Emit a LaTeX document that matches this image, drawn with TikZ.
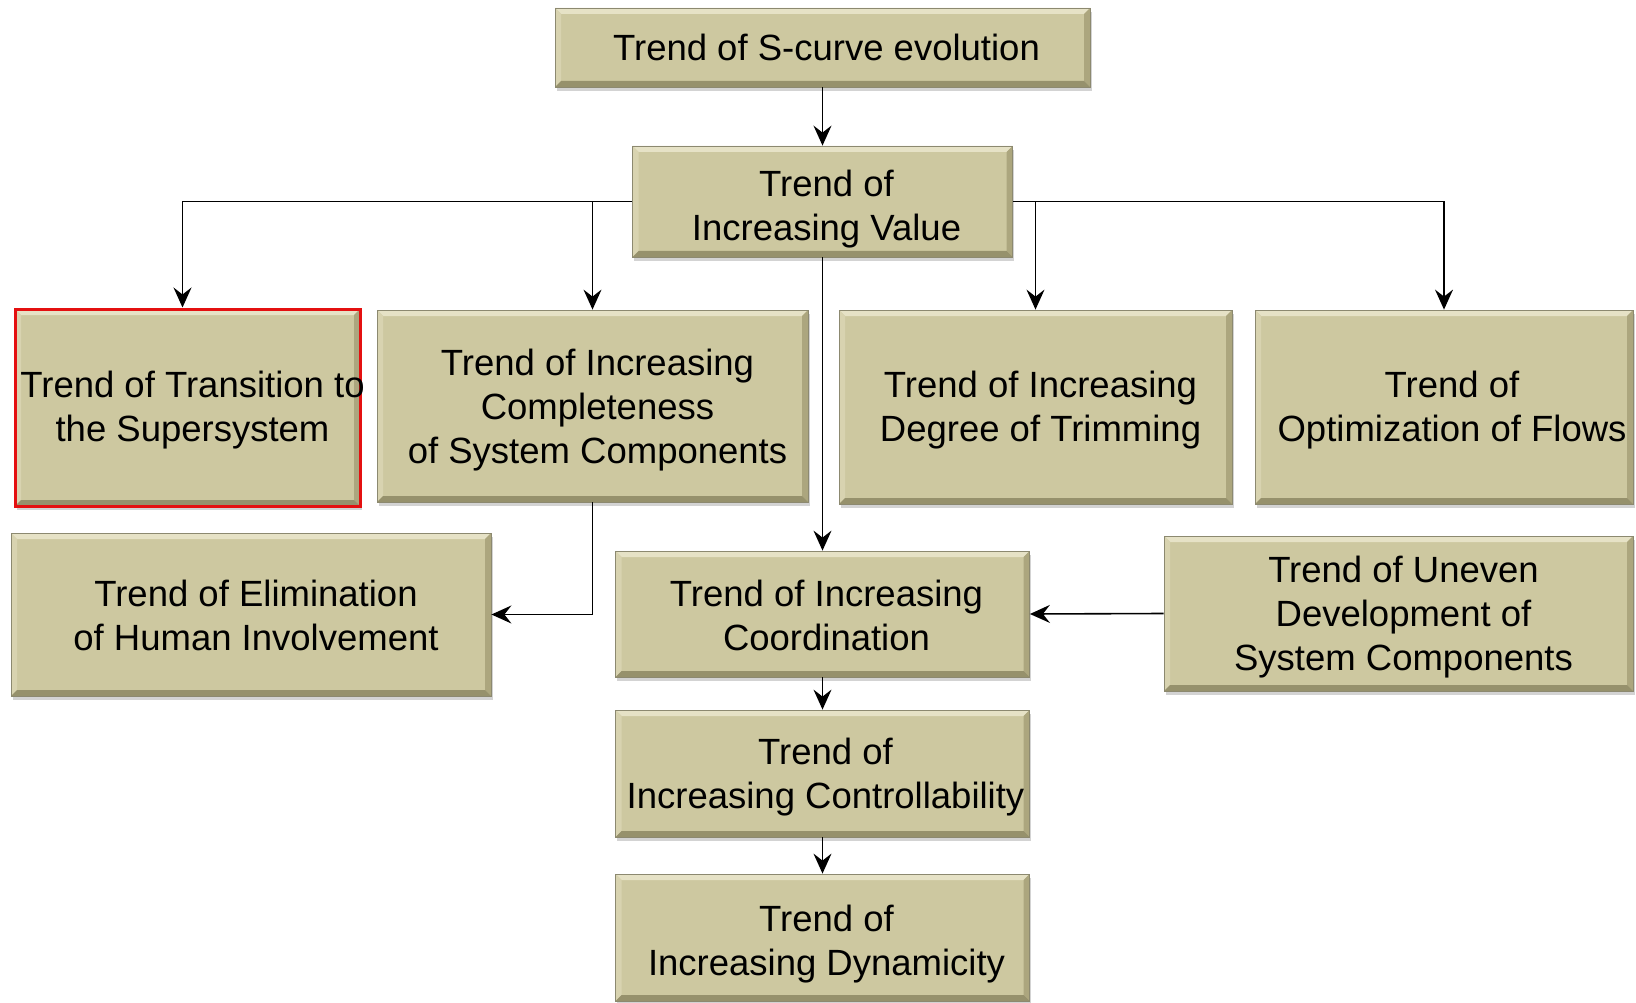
\documentclass[tikz,border=0pt]{standalone}
\usepackage{fontspec}
\setmainfont{Liberation Sans}
\usetikzlibrary{arrows.meta,shadows,calc}
\definecolor{boxfill}{RGB}{205,200,160}
\definecolor{bevtop}{RGB}{230,226,198}
\definecolor{bevleft}{RGB}{216,211,176}
\definecolor{bevright}{RGB}{172,166,126}
\definecolor{bevbot}{RGB}{150,145,108}
\definecolor{boxline}{RGB}{140,137,112}
\definecolor{redline}{RGB}{228,16,16}
\tikzset{
  trendbox/.style={draw=boxline, line width=0.8pt, fill=boxfill, inner sep=0pt,
    drop shadow={shadow xshift=1.5pt, shadow yshift=-4pt, opacity=0.35},
    path picture={
      \fill[bevtop] (path picture bounding box.north west) -- (path picture bounding box.north east)
        -- ([xshift=-6pt,yshift=-6pt]path picture bounding box.north east)
        -- ([xshift=6pt,yshift=-6pt]path picture bounding box.north west) -- cycle;
      \fill[bevleft] (path picture bounding box.north west) -- (path picture bounding box.south west)
        -- ([xshift=6pt,yshift=6pt]path picture bounding box.south west)
        -- ([xshift=6pt,yshift=-6pt]path picture bounding box.north west) -- cycle;
      \fill[bevright] (path picture bounding box.north east) -- (path picture bounding box.south east)
        -- ([xshift=-6pt,yshift=6pt]path picture bounding box.south east)
        -- ([xshift=-6pt,yshift=-6pt]path picture bounding box.north east) -- cycle;
      \fill[bevbot] (path picture bounding box.south west) -- (path picture bounding box.south east)
        -- ([xshift=-6pt,yshift=6pt]path picture bounding box.south east)
        -- ([xshift=6pt,yshift=6pt]path picture bounding box.south west) -- cycle;
    }},
  redbox/.style={trendbox, draw=redline, line width=3pt},
  txt/.style={inner sep=0pt, align=center, font=\fontsize{36.5pt}{44pt}\selectfont, text=black},
  arr/.style={draw=black, line width=1.6pt, -{Stealth[length=20pt,width=18pt,inset=7pt]}}
}
\begin{document}
\begin{tikzpicture}[x=1pt,y=-1pt]
\useasboundingbox (0,0) rectangle (1636,1003);
% boxes
\node[trendbox, minimum width=535pt, minimum height=79pt] (s) at (822.5,47.5) {};
\node[trendbox, minimum width=380pt, minimum height=111pt] (v) at (822.5,201.5) {};
\node[redbox, minimum width=345pt, minimum height=197pt] (tr) at (187.5,407.5) {};
\node[trendbox, minimum width=431pt, minimum height=192pt] (co) at (592.5,406) {};
\node[trendbox, minimum width=393pt, minimum height=194pt] (tm) at (1035.5,407) {};
\node[trendbox, minimum width=378pt, minimum height=194pt] (fl) at (1444,407) {};
\node[trendbox, minimum width=480pt, minimum height=163pt] (el) at (251,614.5) {};
\node[trendbox, minimum width=414pt, minimum height=126pt] (cd) at (822.5,614) {};
\node[trendbox, minimum width=469pt, minimum height=155pt] (un) at (1398.5,613.5) {};
\node[trendbox, minimum width=414pt, minimum height=127pt] (ct) at (822.5,773.5) {};
\node[trendbox, minimum width=414pt, minimum height=127pt] (dy) at (822.5,937.5) {};
% texts
\node[txt] (s-t) at ([shift={(4pt,0pt)}]s.center) {Trend of S-curve evolution};
\node[txt] (v-t) at ([shift={(4pt,-8pt)}]v.center) {Trend of\\Increasing Value};
\node[txt] (tr-t) at ([shift={(5pt,-3pt)}]tr.center) {Trend of Transition to\\the Supersystem};
\node[txt] (co-t) at ([shift={(5pt,-4pt)}]co.center) {Trend of Increasing\\Completeness\\of System Components};
\node[txt] (tm-t) at ([shift={(5pt,-3pt)}]tm.center) {Trend of Increasing\\Degree of Trimming};
\node[txt] (fl-t) at ([shift={(8pt,-3pt)}]fl.center) {Trend of\\Optimization of Flows};
\node[txt] (el-t) at ([shift={(5pt,-1pt)}]el.center) {Trend of Elimination\\of Human Involvement};
\node[txt] (cd-t) at ([shift={(4pt,-1pt)}]cd.center) {Trend of Increasing\\Coordination};
\node[txt] (un-t) at ([shift={(5pt,-4pt)}]un.center) {Trend of Uneven\\Development of\\System Components};
\node[txt] (ct-t) at ([shift={(3pt,-4pt)}]ct.center) {Trend of\\Increasing Controllability};
\node[txt] (dy-t) at ([shift={(4pt,-7pt)}]dy.center) {Trend of\\Increasing Dynamicity};
% connectors
\coordinate (trin) at ([xshift=-5pt]tr.north);
\draw[arr] (s.south) -- (v.north);
\draw[arr] (v.west) -| (trin);
\draw[arr] (v.west -| co.north) -- (co.north);
\draw[arr] (v.east) -| (fl.north);
\draw[arr] (v.east -| tm.north) -- (tm.north);
\draw[arr] (v.south) -- (cd.north);
\draw[arr] (co.south) |- (el.east);
\draw[arr] (un.west) -- (cd.east);
\draw[arr] (cd.south) -- (ct.north);
\draw[arr] (ct.south) -- (dy.north);
\end{tikzpicture}
\end{document}
